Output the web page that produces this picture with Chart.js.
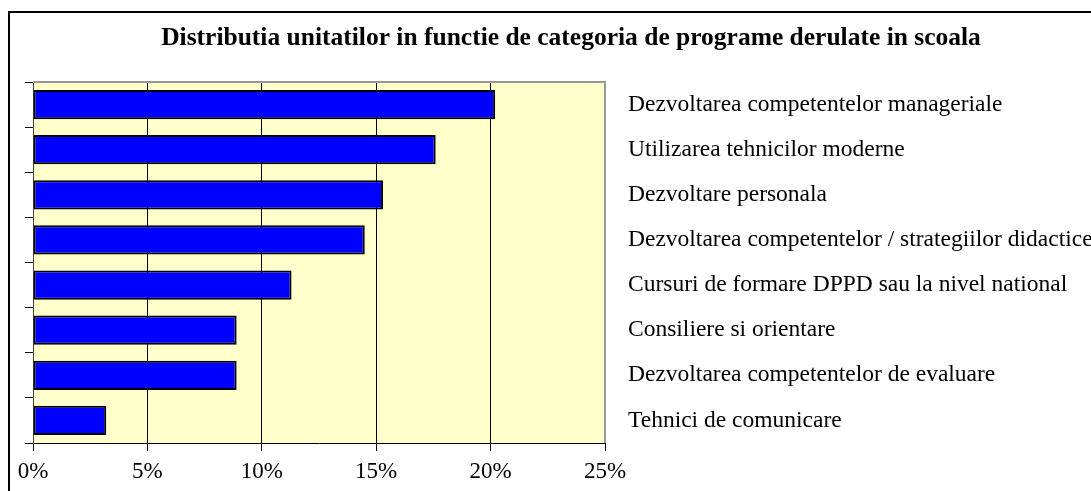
<!DOCTYPE html>
<html>
<head>
<meta charset="utf-8">
<script src="https://cdn.jsdelivr.net/npm/chart.js@4"></script>
<style>
  body { margin: 0; background: #fff; }
</style>
</head>
<body>
<canvas id="myChart" width="1091" height="491"></canvas>
<script>
const categories = [
    'Dezvoltarea competentelor manageriale',
    'Utilizarea tehnicilor moderne',
    'Dezvoltare personala',
    'Dezvoltarea competentelor / strategiilor didactice',
    'Cursuri de formare DPPD sau la nivel national',
    'Consiliere si orientare',
    'Dezvoltarea competentelor de evaluare',
    'Tehnici de comunicare'
];
const values = [20.2, 17.6, 15.3, 14.5, 11.3, 8.9, 8.9, 3.2];
const xTicks = [0, 5, 10, 15, 20, 25];
const chartTitle = 'Distributia unitatilor in functie de categoria de programe derulate in scoala';

// plot background + outer frame
const decor = {
    id: 'decor',
    beforeDraw(chart) {
        const c = chart.ctx, a = chart.chartArea;
        c.save();
        c.fillStyle = '#fff';
        c.fillRect(0, 0, chart.width, chart.height);
        c.strokeStyle = '#000';
        c.lineWidth = 2;
        c.strokeRect(9, 12, chart.width + 20, chart.height + 20);
        c.fillStyle = '#FFFFCC';
        c.fillRect(a.left, a.top, a.right - a.left, a.bottom - a.top);
        c.restore();
    },
    afterDatasetsDraw(chart) {
        const c = chart.ctx, a = chart.chartArea;
        c.save();
        c.strokeStyle = '#999';
        c.lineWidth = 2;
        c.beginPath();
        c.moveTo(a.left, a.top);
        c.lineTo(a.right, a.top);
        c.lineTo(a.right, a.bottom);
        c.stroke();
        c.restore();
    }
};

const ctx = document.getElementById('myChart').getContext('2d');
const myChart = new Chart(ctx, {
    type: 'bar',
    data: {
        labels: categories,
        datasets: [{
            data: values,
            backgroundColor: '#0000FF',
            borderColor: '#000',
            borderWidth: 2,
            borderSkipped: false,
            barPercentage: 0.72,
            categoryPercentage: 0.9
        }]
    },
    plugins: [decor],
    options: {
        responsive: false,
        animation: false,
        indexAxis: 'y',
        layout: { padding: { left: 25, right: -26, top: 0, bottom: 0 } },
        plugins: {
            legend: { display: false },
            tooltip: { enabled: false },
            title: {
                display: true,
                text: chartTitle,
                color: '#000',
                font: { family: 'Liberation Serif', size: 25.5, weight: 'bold', lineHeight: 1.2 },
                padding: { top: 23, bottom: 28.4 }
            }
        },
        scales: {
            x: {
                min: 0,
                max: 25,
                afterBuildTicks(scale) {
                    scale.ticks = xTicks.map(v => ({ value: v }));
                },
                afterFit(scale) { scale.height = 48; },
                border: { color: '#000', width: 1 },
                grid: { color: '#000', lineWidth: 1, tickLength: 8 },
                ticks: {
                    color: '#000',
                    padding: 7,
                    maxRotation: 0,
                    font: { family: 'Liberation Serif', size: 23 },
                    callback: v => v + '%'
                }
            },
            y: {
                position: 'left',
                afterFit(scale) { scale.width = 8; },
                border: { color: '#444', width: 1 },
                grid: { offset: true, drawOnChartArea: false, color: '#000', tickLength: 8 },
                ticks: { display: false }
            },
            y2: {
                type: 'category',
                position: 'right',
                afterFit(scale) { scale.width = 1091 + 26 - 605; },
                border: { display: false },
                grid: { display: false },
                ticks: {
                    color: '#000',
                    padding: 15,
                    crossAlign: 'near',
                    font: { family: 'Liberation Serif', size: 23.5 }
                }
            }
        }
    }
});
</script>
</body>
</html>
